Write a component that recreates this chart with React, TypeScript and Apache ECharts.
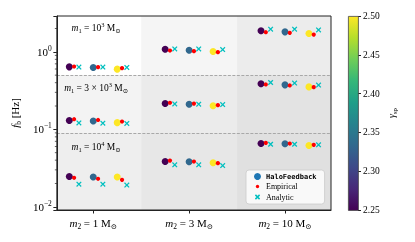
import React, { useEffect, useRef } from 'react';
import * as echarts from 'echarts';

// ---------- data ----------
const m2Labels = ['1', '3', '10'];
const m1Coeff = ['', '3 × ', ''];
const m1Exp = ['3', '3', '4'];
const gammaSp = [2.25, 2.3333, 2.5];
// [row (m1)][column (m2)][gamma]
const haloFeedback = [
  [[0.64, 0.628, 0.598], [1.08, 1.05, 1.01], [1.87, 1.81, 1.72]],
  [[0.13, 0.128, 0.122], [0.215, 0.211, 0.201], [0.387, 0.375, 0.353]],
  [[0.0246, 0.0242, 0.0242], [0.0384, 0.0381, 0.037], [0.0656, 0.065, 0.0618]],
];
const empirical = [
  [[0.646, 0.634, 0.616], [1.04, 1.02, 0.99], [1.79, 1.76, 1.67]],
  [[0.135, 0.132, 0.126], [0.22, 0.215, 0.205], [0.379, 0.368, 0.35]],
  [[0.0237, 0.023, 0.0223], [0.0395, 0.0384, 0.0366], [0.067, 0.0656, 0.0631]],
];
const analytic = [
  [[0.635, 0.635, 0.628], [1.09, 1.09, 1.07], [1.96, 1.96, 1.92]],
  [[0.121, 0.12, 0.119], [0.213, 0.211, 0.209], [0.402, 0.395, 0.372]],
  [[0.0196, 0.0196, 0.0191], [0.0348, 0.0348, 0.0341], [0.0642, 0.0642, 0.0631]],
];
const yMinorTicks = [0.02, 0.03, 0.04, 0.05, 0.06, 0.07, 0.08, 0.09, 0.2, 0.3, 0.4, 0.5, 0.6, 0.7, 0.8, 0.9, 2];
const rowDividers = [0.5, 0.09];
const colDividers = [0.5, 1.5];
const rowLabelY = [2.05, 0.345, 0.06];
const legendNames = ['HaloFeedback', 'Empirical', 'Analytic'];

// ---------- layout / style ----------
const X_MIN = -0.38;
const X_MAX = 2.48;
const Y_MIN = 0.0091;
const Y_MAX = 2.9;
const gammaOffsets = [-0.25, 0, 0.25];
const seriesShift = [0, 0.05, 0.1];
const rowLabelX = 0.03;
const bgColors = [
  ['#ffffff', '#f5f5f5', '#ececec'],
  ['#f3f3f3', '#ebebeb', '#e3e3e3'],
  ['#eeeeee', '#e7e7e7', '#e0e0e0'],
];
const viridis = ['#440154', '#482878', '#3e4989', '#31688e', '#26828e', '#1f9e89', '#35b779', '#6ece58', '#b5de2b', '#fde725'];
const FONT = "'Liberation Serif', 'DejaVu Serif', serif";
const MONO = "'DejaVu Sans Mono', 'Liberation Mono', monospace";

function mkRich(size: number, lh: number) {
  const sub = size * 0.68;
  return {
    i: { fontFamily: FONT, fontSize: size, fontStyle: 'italic', lineHeight: lh, color: '#000' },
    n: { fontFamily: FONT, fontSize: size, lineHeight: lh, color: '#000' },
    sub: { fontFamily: FONT, fontSize: sub, lineHeight: sub, verticalAlign: 'bottom', color: '#000' },
    sup: { fontFamily: FONT, fontSize: sub, lineHeight: sub, verticalAlign: 'top', color: '#000' },
  };
}

function build(vals: number[][][], shift: number) {
  const out: number[][] = [];
  vals.forEach((row) =>
    row.forEach((col, c) =>
      col.forEach((v, g) => out.push([c + gammaOffsets[g] + shift, v, gammaSp[g]]))
    )
  );
  return out;
}

function svgIcon(svg: string) {
  return 'image://data:image/svg+xml;charset=utf-8,' + encodeURIComponent(svg);
}

const X_PATH = 'path://M0,1.6L1.6,0L5,3.4L8.4,0L10,1.6L6.6,5L10,8.4L8.4,10L5,6.6L1.6,10L0,8.4L3.4,5Z';

export default function App() {
  const ref = useRef<HTMLDivElement>(null);
  useEffect(() => {
    if (!ref.current) return;
    const chart = echarts.init(ref.current, null, { renderer: 'svg' });

    const rowB = [Y_MAX, rowDividers[0], rowDividers[1], Y_MIN];
    const colB = [X_MIN, colDividers[0], colDividers[1], X_MAX];
    const areas: any[] = [];
    for (let r = 0; r < 3; r++) {
      for (let c = 0; c < 3; c++) {
        areas.push([
          { xAxis: colB[c], yAxis: rowB[r], itemStyle: { color: bgColors[r][c] } },
          { xAxis: colB[c + 1], yAxis: rowB[r + 1] },
        ]);
      }
    }

    const richAxis = mkRich(11, 14);
    const richRow = mkRich(9.5, 12);
    const richName = mkRich(11, 14);
    const richCb = mkRich(10, 13);

    const option: any = {
      animation: false,
      textStyle: { fontFamily: FONT, color: '#000' },
      grid: [
        { left: 55, top: 16, width: 276, height: 194, show: true, borderColor: '#222', borderWidth: 1, backgroundColor: 'transparent', z: 10 },
        { left: 348, top: 16, width: 10, height: 194 },
      ],
      xAxis: [
        {
          type: 'value', gridIndex: 0, min: X_MIN, max: X_MAX, z: 10,
          splitLine: { show: false },
          axisLine: { show: true, onZero: false, lineStyle: { color: '#222', width: 1 } },
          axisTick: { show: true, customValues: [0, 1, 2], length: 3.5, lineStyle: { color: '#222' } },
          axisLabel: {
            customValues: [0, 1, 2], margin: 6, rich: richAxis, lineHeight: 14, fontSize: 11, fontFamily: FONT, color: '#000',
            formatter: (v: number) => `{i|m}{sub|2}{n| = ${m2Labels[Math.round(v)]} M}{sub|⊙}`,
          },
        },
        { type: 'value', gridIndex: 1, show: false, min: 0, max: 1 },
      ],
      yAxis: [
        {
          type: 'log', logBase: 10, gridIndex: 0, min: Y_MIN, max: Y_MAX, z: 10,
          splitLine: { show: false },
          axisLine: { show: true, onZero: false, lineStyle: { color: '#222', width: 1 } },
          axisTick: { show: true, length: 3.5, lineStyle: { color: '#222' } },
          axisLabel: {
            margin: 5, rich: richAxis, fontSize: 11, lineHeight: 14, fontFamily: FONT, color: '#000',
            formatter: (v: number) => {
              const e = Math.log10(v);
              if (Math.abs(e - Math.round(e)) > 1e-6) return '';
              const k = Math.round(e);
              return `{n|10}{sup|${k < 0 ? '−' + Math.abs(k) : k}}`;
            },
          },
          name: '{i|f}{sub|b}{n| [Hz]}', nameLocation: 'middle', nameGap: 32, nameRotate: 90,
          nameTextStyle: { rich: richName, fontSize: 11, lineHeight: 14, fontFamily: FONT, color: '#000' },
        },
        {
          type: 'value', gridIndex: 1, min: 2.25, max: 2.5, interval: 0.05, position: 'right',
          splitLine: { show: false },
          axisLine: { show: false, onZero: false },
          axisTick: { show: true, length: 3, lineStyle: { color: '#222' } },
          axisLabel: { formatter: (v: number) => v.toFixed(2), margin: 5, fontSize: 9.5, fontFamily: FONT, color: '#000' },
          name: '{i|γ}{sub|sp}', nameLocation: 'middle', nameRotate: 90, nameGap: 27,
          nameTextStyle: { rich: richCb, fontSize: 10, lineHeight: 13, fontFamily: FONT, color: '#000' },
        },
      ],
      visualMap: {
        type: 'continuous', show: false, min: 2.25, max: 2.5, dimension: 2, seriesIndex: 3,
        inRange: { color: viridis },
      },
      legend: {
        data: [
          { name: legendNames[0], icon: 'circle', itemStyle: { color: '#1f77b4' } },
          { name: legendNames[1], icon: svgIcon('<svg xmlns="http://www.w3.org/2000/svg" width="10" height="10" viewBox="0 0 10 10"><circle cx="5" cy="5" r="2.4" fill="#ff0000"/></svg>') },
          { name: legendNames[2], icon: svgIcon('<svg xmlns="http://www.w3.org/2000/svg" width="10" height="10" viewBox="0 0 10 10"><path d="M2,2L8,8M8,2L2,8" stroke="#00bfbf" stroke-width="2.2"/></svg>') },
        ],
        orient: 'vertical', left: 246, top: 170,
        itemWidth: 7, itemHeight: 7, itemGap: 2.5, itemTextGap: 11,
        padding: [3, 8, 3, 8],
        backgroundColor: 'rgba(255,255,255,0.8)', borderColor: '#cccccc', borderWidth: 0.8, borderRadius: 3,
        selectedMode: false,
        textStyle: {
          fontSize: 8, fontFamily: FONT, color: '#000',
          rich: { mono: { fontFamily: MONO, fontSize: 7, fontWeight: 'bold', color: '#000' } },
        },
        formatter: (n: string) => (n === legendNames[0] ? `{mono|${n}}` : n),
      },
      graphic: [
        {
          type: 'rect', left: 348, top: 16, z: 5,
          shape: { width: 10, height: 194 },
          style: {
            fill: new echarts.graphic.LinearGradient(0, 1, 0, 0, viridis.map((c, i) => ({ offset: i / (viridis.length - 1), color: c }))),
            stroke: '#444', lineWidth: 0.8,
          },
        },
      ],
      series: [
        {
          type: 'scatter', xAxisIndex: 0, yAxisIndex: 0, data: [], silent: true, z: 1,
          markArea: { silent: true, data: areas },
          markLine: {
            silent: true, symbol: 'none', label: { show: false },
            lineStyle: { type: [3, 1.5], color: '#a8a8a8', width: 1 },
            data: rowDividers.map((y) => ({ yAxis: y })),
          },
        },
        {
          type: 'custom', xAxisIndex: 0, yAxisIndex: 0, silent: true, clip: false, z: 11,
          data: yMinorTicks.map((v) => [X_MIN, v]),
          encode: { x: 0, y: 1 },
          renderItem: (_p: any, api: any) => {
            const pt = api.coord([api.value(0), api.value(1)]);
            return { type: 'line', shape: { x1: pt[0] - 2, y1: pt[1], x2: pt[0], y2: pt[1] }, style: { stroke: '#222', lineWidth: 0.7 } };
          },
        },
        {
          type: 'custom', xAxisIndex: 0, yAxisIndex: 0, silent: true, clip: false, z: 6,
          data: rowLabelY.map((y, i) => [rowLabelX, y, i]),
          encode: { x: 0, y: 1 },
          renderItem: (_p: any, api: any) => {
            const pt = api.coord([api.value(0), api.value(1)]);
            const i = api.value(2);
            return {
              type: 'text', x: pt[0], y: pt[1],
              style: {
                text: `{i|m}{sub|1}{n| = ${m1Coeff[i]}10}{sup|${m1Exp[i]}}{n| M}{sub|⊙}`,
                rich: richRow, align: 'center', verticalAlign: 'middle', fontFamily: FONT, fontSize: 9.5, fill: '#000',
              },
            };
          },
        },
        {
          name: legendNames[0], type: 'scatter', xAxisIndex: 0, yAxisIndex: 0, z: 7,
          symbol: 'circle', symbolSize: 7, itemStyle: { color: '#1f77b4', opacity: 1 },
          data: build(haloFeedback, seriesShift[0]),
        },
        {
          name: legendNames[1], type: 'scatter', xAxisIndex: 0, yAxisIndex: 0, z: 8,
          symbol: 'circle', symbolSize: 4.2, itemStyle: { color: '#ff0000', opacity: 1 },
          data: build(empirical, seriesShift[1]),
        },
        {
          name: legendNames[2], type: 'scatter', xAxisIndex: 0, yAxisIndex: 0, z: 9,
          symbol: X_PATH, symbolSize: 5.5, itemStyle: { color: '#00bfbf', opacity: 1 },
          data: build(analytic, seriesShift[2]),
        },
        { type: 'scatter', xAxisIndex: 1, yAxisIndex: 1, data: [], silent: true },
      ],
    };
    chart.setOption(option);
    return () => chart.dispose();
  }, []);
  return <div ref={ref} style={{ position: 'fixed', left: 0, top: 0, width: 415, height: 242 }} />;
}
